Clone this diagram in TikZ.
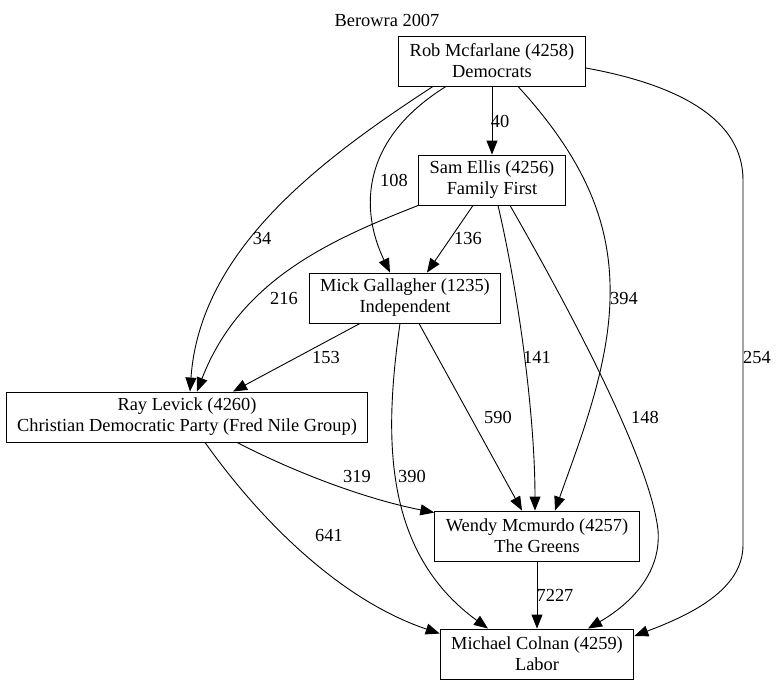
\documentclass[tikz,border=0pt]{standalone}
\usepackage{fontspec}
\setmainfont{Liberation Serif}
\usepackage{tikz}
\usetikzlibrary{arrows.meta}

\begin{document}
\begin{tikzpicture}[x=1pt,y=-1pt,line width=0.9pt,
		font=\fontsize{18.4}{21}\selectfont,
		cand/.style={draw,rectangle,align=center,inner xsep=11pt,minimum height=50pt},
		vote/.style={-{Triangle[length=14pt,width=11pt]}},
		lbl/.style={inner sep=0pt}]
			\useasboundingbox (0,0) rectangle (777,685);

			\node[lbl] (title) at (387,20){Berowra 2007};

			\node[cand] (rob) at (492,61){Rob Mcfarlane (4258)\\Democrats};
			\node[cand] (sam) at (492,180){Sam Ellis (4256)\\Family First};
			\node[cand] (mick) at (405,298){Mick Gallagher (1235)\\Independent};
			\node[cand] (ray) at (187,417){Ray Levick (4260)\\Christian Democratic Party (Fred Nile Group)};
			\node[cand] (wendy) at (537,536){Wendy Mcmurdo (4257)\\The Greens};
			\node[cand] (michael) at (537,654){Michael Colnan (4259)\\Labor};

			\draw[vote](rob.south) -- (sam.north);
			\draw[vote]([xshift=-59pt]rob.south) .. controls (320,160) and (200,250) .. ([xshift=3pt]ray.north);
			\draw[vote]([xshift=-46pt]rob.south) .. controls (360,140) and (360,210) .. ([xshift=-15pt]mick.north);
			\draw[vote]([xshift=26pt]rob.south) .. controls (590,165) and (612,230) .. (610,300) .. controls (608,370) and (580,440) .. ([xshift=18pt]wendy.north);
			\draw[vote]([yshift=-7pt]rob.east) .. controls (680,85) and (743,120) .. (743,180) -- (743,545) .. controls (743,590) and (690,615) .. ([yshift=18pt]michael.east);

			\draw[vote]([xshift=-19pt]sam.south) -- ([xshift=22pt]mick.north);
			\draw[vote](sam.south west) .. controls (330,240) and (240,280) .. ([xshift=10pt]ray.north);
			\draw[vote]([xshift=6pt]sam.south) .. controls (520,300) and (535,420) .. ([xshift=-2pt]wendy.north);
			\draw[vote]([xshift=18pt]sam.south) .. controls (570,310) and (650,460) .. (658,530) .. controls (662,580) and (620,610) .. ([xshift=51pt]michael.north);

			\draw[vote]([xshift=-45pt]mick.south) -- ([xshift=46pt]ray.north);
			\draw[vote]([xshift=14pt]mick.south) -- ([xshift=-15pt]wendy.north);
			\draw[vote]([xshift=-5pt]mick.south) .. controls (385,430) and (380,550) .. ([xshift=-49pt]michael.north);

			\draw[vote]([xshift=50pt]ray.south) .. controls (300,475) and (370,500) .. ([yshift=-2pt]wendy.north west);
			\draw[vote]([xshift=18pt]ray.south) .. controls (260,520) and (340,600) .. ([yshift=-5pt]michael.north west);

			\draw[vote](wendy.south) -- (michael.north);

			\node[lbl] (n40) at (500,121){40};
			\node[lbl] (n108) at (394,180){108};
			\node[lbl] (n34) at (262,238){34};
			\node[lbl] (n394) at (624,298){394};
			\node[lbl] (n254) at (757,357){254};
			\node[lbl] (n136) at (468,238){136};
			\node[lbl] (n216) at (284,298){216};
			\node[lbl] (n141) at (537,357){141};
			\node[lbl] (n148) at (645,417){148};
			\node[lbl] (n153) at (326,357){153};
			\node[lbl] (n590) at (498,417){590};
			\node[lbl] (n390) at (412,476){390};
			\node[lbl] (n319) at (357,476){319};
			\node[lbl] (n641) at (329,535){641};
			\node[lbl] (n7227) at (555,595){7227};
		\end{tikzpicture}
\end{document}
